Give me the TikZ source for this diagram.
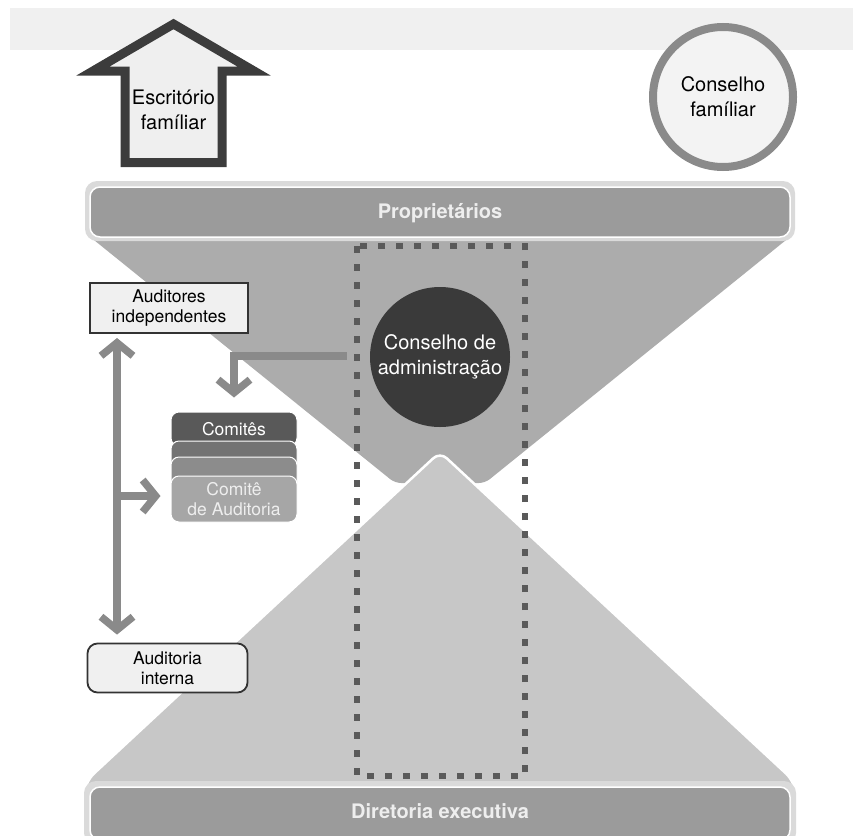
\documentclass[tikz,border=0pt]{standalone}
\usepackage{fontspec}
\setmainfont{TeX Gyre Heros}
\usetikzlibrary{arrows.meta}
\definecolor{band}{HTML}{F0F0F0}
\definecolor{housefill}{HTML}{EFEFEF}
\definecolor{housedraw}{HTML}{3C3C3C}
\definecolor{circfill}{HTML}{F3F3F3}
\definecolor{circdraw}{HTML}{8A8A8A}
\definecolor{halo}{HTML}{DADADA}
\definecolor{barfill}{HTML}{9B9B9B}
\definecolor{upperfill}{HTML}{ACACAC}
\definecolor{lowerfill}{HTML}{C7C7C7}
\definecolor{boardfill}{HTML}{3A3A3A}
\definecolor{dashcol}{HTML}{5A5A5A}
\definecolor{arrcol}{HTML}{8A8A8A}
\definecolor{boxfill}{HTML}{F0F0F0}
\definecolor{boxdraw}{HTML}{333333}
\definecolor{layA}{HTML}{595959}
\definecolor{layB}{HTML}{737373}
\definecolor{layC}{HTML}{8C8C8C}
\definecolor{layD}{HTML}{A6A6A6}
\definecolor{lighttext}{HTML}{EEEEEE}
\tikzset{
  bigtext/.style={font=\fontsize{20}{25}\selectfont, align=center},
  smalltext/.style={font=\fontsize{17.5}{20}\selectfont, align=center},
  bartext/.style={font=\fontsize{20}{24}\selectfont\bfseries, text=lighttext},
  halobox/.style={fill=halo, rounded corners=12pt},
  barbox/.style={fill=barfill, draw=white, line width=1.5pt, rounded corners=10pt},
  infobox/.style={draw=boxdraw, fill=boxfill, line width=2pt, inner sep=0pt, smalltext},
  layer/.style={draw=white, line width=1pt, rounded corners=8pt, minimum width=126pt, inner sep=0pt, smalltext},
  arr/.style={draw=arrcol, line width=7.5pt, -{Straight Barb[length=13pt,width=32pt]}},
  biarr/.style={draw=arrcol, line width=7.5pt, {Straight Barb[length=13pt,width=32pt]}-{Straight Barb[length=13pt,width=32pt]}},
  dashbox/.style={draw=dashcol, line width=6pt, dash pattern=on 7pt off 11pt},
}
\begin{document}
\begin{tikzpicture}[x=1pt, y=-1pt]
\useasboundingbox (0,0) rectangle (853,835);
% top band
\fill[band] (10,8) rectangle (853,50);
% upper trapezoid
\fill[upperfill, rounded corners=6pt] (89,236) -- (791,236) -- (485,483) -- (395,483) -- cycle;
% lower triangle
\filldraw[fill=lowerfill, draw=white, line width=2.5pt, rounded corners=9pt]
  (440,452) -- (87,780) -- (83,800) -- (797,800) -- (793,780) -- cycle;
% top bar
\fill[halobox] (85,181) rectangle (795,241);
\draw[barbox] (90,187) rectangle (790,237);
\node[bartext] (prop) at (440,213) {Proprietários};
% bottom bar
\fill[halobox] (84,781) rectangle (796,845);
\draw[barbox] (90,787) rectangle (790,840);
\node[bartext] (dir) at (440,811) {Diretoria executiva};
% dashed frame
\draw[dashbox] (357,246) rectangle (525,776);
% house arrow
\filldraw[fill=housefill, draw=housedraw, line width=9pt, line join=miter, miter limit=20]
  (173.5,24) -- (254,71) -- (222,71) -- (222,162.5) -- (125,162.5) -- (125,71) -- (93,71) -- cycle;
\node[bigtext] (esc) at (173.5,110) {Escritório\\famíliar};
% family council
\node[circle, draw=circdraw, fill=circfill, line width=8pt, minimum size=140pt, inner sep=0pt, bigtext] (cf) at (723,97) {Conselho\\famíliar};
% board
\node[circle, fill=boardfill, minimum size=140pt, inner sep=0pt, bigtext, text=white] (cadm) at (440,357) {Conselho de\\administração};
% boxes
\node[infobox, minimum width=158pt, minimum height=50pt] (audind) at (169,308) {Auditores\\independentes};
\node[infobox, rounded corners=10pt, line width=1.8pt, minimum width=160pt, minimum height=49pt] (audint) at (167.5,668) {Auditoria\\interna};
% committees stack
\node[layer, fill=layA, minimum height=34pt, text=white] (com1) at (234,429) {Comitês};
\node[layer, fill=layB, minimum height=34pt] (com2) at (234,458) {};
\node[layer, fill=layC, minimum height=34pt] (com3) at (234,474) {};
\node[layer, fill=layD, minimum height=46pt, text=lighttext] (com4) at (234,499) {Comitê\\de Auditoria};
% arrows
\coordinate (vtop) at ([xshift=-52pt, yshift=-4pt]audind.south);
\coordinate (vbot) at ([xshift=-50.5pt, yshift=8pt]audint.north);
\draw[biarr] (vtop) -- (vbot);
\coordinate (branch) at (vtop |- com4.west);
\draw[arr] ([yshift=3pt]branch) -- ([xshift=-10pt, yshift=3pt]com4.west);
\draw[arr] ([xshift=-23pt, yshift=1pt]cadm.west) -| ([yshift=14pt]com1.north);
\end{tikzpicture}
\end{document}
